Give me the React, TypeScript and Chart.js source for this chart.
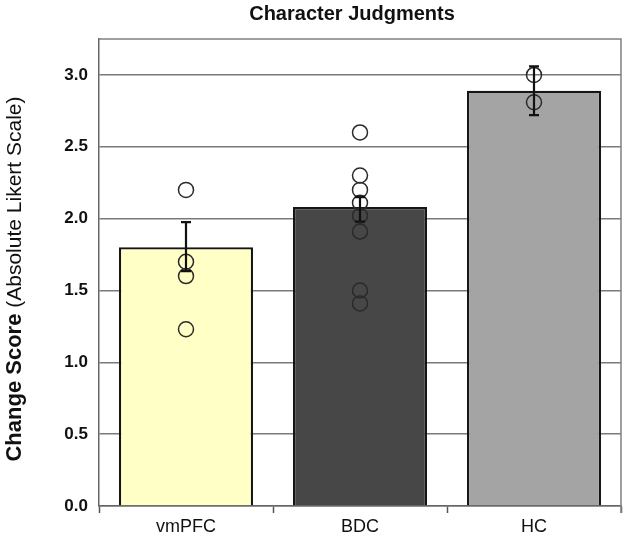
import React, { useEffect, useRef } from "react";
import { Chart, registerables } from "chart.js";

Chart.register(...registerables);

const categories = ["vmPFC", "BDC", "HC"];
const means = [1.8, 2.08, 2.89];
const errLow = [1.635, 1.98, 2.72];
const errHigh = [1.975, 2.15, 3.06];
const vmpfcPoints = [2.2, 1.7, 1.6, 1.23];
const bdcPoints = [2.6, 2.3, 2.2, 2.11, 2.02, 1.91, 1.5, 1.41];
const hcPoints = [3.0, 2.81];
const yTicks = [0, 0.5, 1.0, 1.5, 2.0, 2.5, 3.0];

const barColors = ["#ffffc6", "#474747", "#a4a4a4"];
const FONT = "'Liberation Sans', Arial, Helvetica, sans-serif";

export default function App() {
  const ref = useRef<HTMLCanvasElement | null>(null);

  useEffect(() => {
    const canvas = ref.current;
    if (!canvas) return;

    const pointGroups = [vmpfcPoints, bdcPoints, hcPoints];
    const scatterData: { x: string; y: number }[] = [];
    pointGroups.forEach((pts, i) => {
      pts.forEach((v) => scatterData.push({ x: categories[i], y: v }));
    });

    const decor = {
      id: "decor",
      afterDatasetsDraw(chart: any) {
        const { ctx, chartArea, scales } = chart;
        const xs = scales.x;
        const ys = scales.y;
        ctx.save();
        // error bars
        ctx.strokeStyle = "#111";
        ctx.lineWidth = 2.2;
        categories.forEach((c, i) => {
          const x = xs.getPixelForValue(i);
          const y1 = ys.getPixelForValue(errLow[i]);
          const y2 = ys.getPixelForValue(errHigh[i]);
          ctx.beginPath();
          ctx.moveTo(x, y1);
          ctx.lineTo(x, y2);
          ctx.moveTo(x - 5, y1);
          ctx.lineTo(x + 5, y1);
          ctx.moveTo(x - 5, y2);
          ctx.lineTo(x + 5, y2);
          ctx.stroke();
        });
        // top and right border
        ctx.strokeStyle = "#808080";
        ctx.lineWidth = 1.5;
        ctx.beginPath();
        ctx.moveTo(chartArea.left, chartArea.top);
        ctx.lineTo(chartArea.right, chartArea.top);
        ctx.lineTo(chartArea.right, chartArea.bottom + 7);
        ctx.stroke();
        ctx.restore();
      },
      afterDraw(chart: any) {
        const { ctx } = chart;
        ctx.save();
        ctx.fillStyle = "#111";
        ctx.textBaseline = "middle";
        ctx.textAlign = "center";
        ctx.font = `bold 20px ${FONT}`;
        ctx.fillText("Character Judgments", 352, 14);

        // y title
        const boldPart = "Change Score";
        const normPart = " (Absolute Likert Scale)";
        ctx.font = `bold 22px ${FONT}`;
        const wb = ctx.measureText(boldPart).width;
        ctx.font = `21px ${FONT}`;
        const wn = ctx.measureText(normPart).width;
        const total = wb + wn;
        const cy = 279;
        ctx.translate(21, cy);
        ctx.rotate(-Math.PI / 2);
        ctx.textAlign = "left";
        ctx.textBaseline = "alphabetic";
        ctx.font = `bold 22px ${FONT}`;
        ctx.fillText(boldPart, -total / 2, 0);
        ctx.font = `21px ${FONT}`;
        ctx.fillText(normPart, -total / 2 + wb, 0);
        ctx.restore();
      },
    };

    const chart = new Chart(canvas, {
      type: "bar",
      data: {
        labels: categories,
        datasets: [
          {
            type: "line",
            data: scatterData as any,
            showLine: false,
            pointRadius: 7.5,
            pointHoverRadius: 7.5,
            pointBackgroundColor: "rgba(0,0,0,0)",
            pointBorderColor: "#2a2a2a",
            pointBorderWidth: 1.5,
            borderColor: "#2a2a2a",
            backgroundColor: "rgba(0,0,0,0)",
            order: 0,
          } as any,
          {
            type: "bar",
            data: means,
            backgroundColor: barColors,
            borderColor: "#151515",
            borderWidth: 2.2,
            barPercentage: 0.77,
            categoryPercentage: 1.0,
            order: 1,
          },
        ],
      },
      options: {
        animation: false,
        responsive: false,
        maintainAspectRatio: false,
        layout: { padding: { left: 0, right: 17, top: 39, bottom: 0 } },
        plugins: {
          legend: { display: false },
          title: { display: false },
          tooltip: { enabled: false },
        },
        scales: {
          x: {
            type: "category",
            offset: true,
            grid: {
              offset: true,
              drawOnChartArea: false,
              drawTicks: true,
              tickLength: 7,
              tickColor: "#555",
              tickWidth: 1.5,
            },
            border: { display: true, color: "#666", width: 1.5 },
            ticks: {
              color: "#111",
              font: { family: FONT, size: 18 },
              padding: 3,
            },
            afterFit(scale: any) {
              scale.height = 33;
            },
          },
          y: {
            min: 0,
            max: 3.25,
            afterBuildTicks(scale: any) {
              scale.ticks = yTicks.map((v) => ({ value: v }));
            },
            grid: {
              color: "#7a7a7a",
              lineWidth: 1.5,
              drawTicks: false,
            },
            border: { display: true, color: "#666", width: 1.5 },
            ticks: {
              color: "#111",
              font: { family: FONT, size: 17, weight: "bold" },
              padding: 11,
              callback: (v: any) => Number(v).toFixed(1),
            },
            afterFit(scale: any) {
              scale.width = 99;
            },
          },
        },
      } as any,
      plugins: [decor],
    });

    return () => chart.destroy();
  }, []);

  return (
    <div style={{ position: "absolute", left: 0, top: 0, width: 638, height: 539, background: "#fff" }}>
      <canvas ref={ref} width={638} height={539} />
    </div>
  );
}
